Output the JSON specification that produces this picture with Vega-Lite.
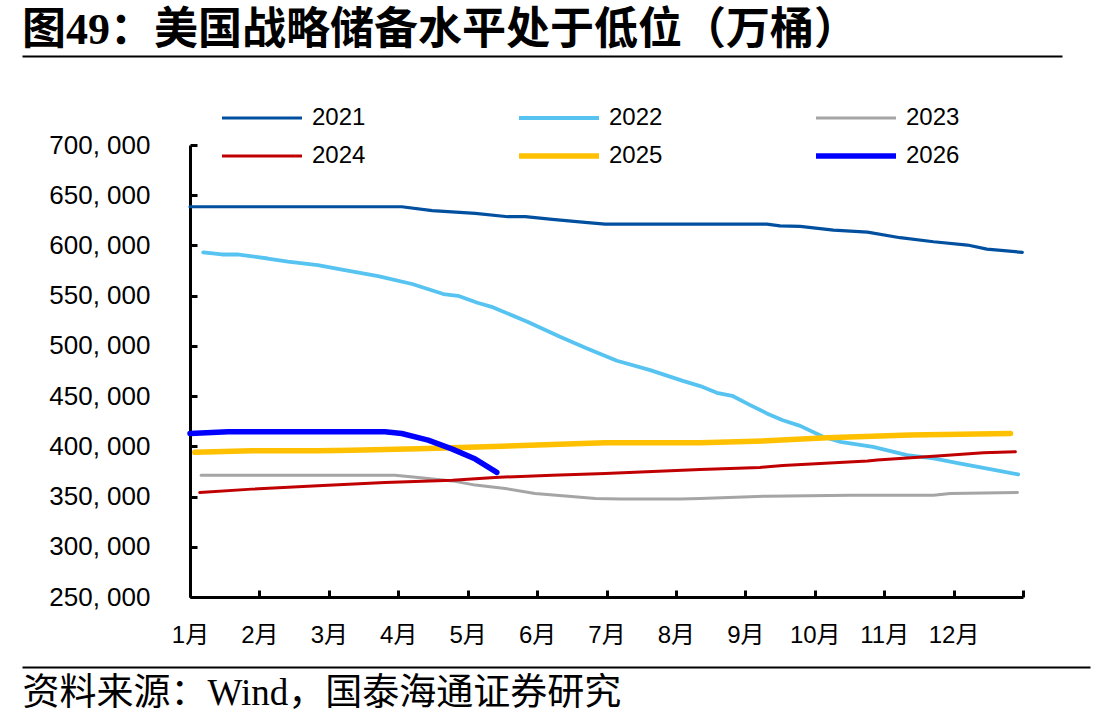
{
  "$schema": "https://vega.github.io/schema/vega-lite/v6.json",
  "padding": {"left": 22, "top": 9, "right": 0, "bottom": 0},
  "background": "white",
  "spacing": 17,
  "config": {
    "view": {"stroke": null},
    "axis": {"grid": false}
  },
  "data": {
    "values": [
      {"year": "2021", "month": 0, "stock": 638500},
      {"year": "2021", "month": 0.5, "stock": 638500},
      {"year": "2021", "month": 1, "stock": 638500},
      {"year": "2021", "month": 1.5, "stock": 638500},
      {"year": "2021", "month": 2, "stock": 638500},
      {"year": "2021", "month": 2.5, "stock": 638500},
      {"year": "2021", "month": 3.05, "stock": 638500},
      {"year": "2021", "month": 3.49, "stock": 634600},
      {"year": "2021", "month": 4.11, "stock": 632000},
      {"year": "2021", "month": 4.58, "stock": 628600},
      {"year": "2021", "month": 4.83, "stock": 628600},
      {"year": "2021", "month": 5.22, "stock": 626000},
      {"year": "2021", "month": 5.69, "stock": 623000},
      {"year": "2021", "month": 5.98, "stock": 621300},
      {"year": "2021", "month": 6.5, "stock": 621300},
      {"year": "2021", "month": 7, "stock": 621300},
      {"year": "2021", "month": 7.5, "stock": 621300},
      {"year": "2021", "month": 8.31, "stock": 621300},
      {"year": "2021", "month": 8.5, "stock": 619500},
      {"year": "2021", "month": 8.79, "stock": 619000},
      {"year": "2021", "month": 9.27, "stock": 615300},
      {"year": "2021", "month": 9.76, "stock": 613300},
      {"year": "2021", "month": 10.23, "stock": 607700},
      {"year": "2021", "month": 10.71, "stock": 603700},
      {"year": "2021", "month": 11.2, "stock": 600400},
      {"year": "2021", "month": 11.48, "stock": 596400},
      {"year": "2021", "month": 11.99, "stock": 593100},

      {"year": "2022", "month": 0.19, "stock": 593100},
      {"year": "2022", "month": 0.46, "stock": 591000},
      {"year": "2022", "month": 0.68, "stock": 591000},
      {"year": "2022", "month": 1.12, "stock": 587000},
      {"year": "2022", "month": 1.41, "stock": 583800},
      {"year": "2022", "month": 1.84, "stock": 580500},
      {"year": "2022", "month": 2.23, "stock": 575500},
      {"year": "2022", "month": 2.71, "stock": 569500},
      {"year": "2022", "month": 3.2, "stock": 561600},
      {"year": "2022", "month": 3.65, "stock": 551600},
      {"year": "2022", "month": 3.86, "stock": 549900},
      {"year": "2022", "month": 4.14, "stock": 542900},
      {"year": "2022", "month": 4.37, "stock": 538300},
      {"year": "2022", "month": 4.86, "stock": 524000},
      {"year": "2022", "month": 5.33, "stock": 509000},
      {"year": "2022", "month": 5.72, "stock": 497500},
      {"year": "2022", "month": 6.15, "stock": 485200},
      {"year": "2022", "month": 6.63, "stock": 475900},
      {"year": "2022", "month": 7.1, "stock": 465200},
      {"year": "2022", "month": 7.35, "stock": 460000},
      {"year": "2022", "month": 7.59, "stock": 453300},
      {"year": "2022", "month": 7.81, "stock": 450300},
      {"year": "2022", "month": 8.07, "stock": 441000},
      {"year": "2022", "month": 8.31, "stock": 432800},
      {"year": "2022", "month": 8.54, "stock": 426000},
      {"year": "2022", "month": 8.79, "stock": 420400},
      {"year": "2022", "month": 9.12, "stock": 409500},
      {"year": "2022", "month": 9.37, "stock": 404500},
      {"year": "2022", "month": 9.84, "stock": 399500},
      {"year": "2022", "month": 10.33, "stock": 391200},
      {"year": "2022", "month": 10.71, "stock": 387900},
      {"year": "2022", "month": 11.1, "stock": 382900},
      {"year": "2022", "month": 11.43, "stock": 378600},
      {"year": "2022", "month": 11.93, "stock": 372000},

      {"year": "2023", "month": 0.16, "stock": 371300},
      {"year": "2023", "month": 1, "stock": 371300},
      {"year": "2023", "month": 2, "stock": 371300},
      {"year": "2023", "month": 2.95, "stock": 371300},
      {"year": "2023", "month": 3.29, "stock": 369000},
      {"year": "2023", "month": 3.78, "stock": 365600},
      {"year": "2023", "month": 4.11, "stock": 361400},
      {"year": "2023", "month": 4.54, "stock": 358000},
      {"year": "2023", "month": 4.97, "stock": 353000},
      {"year": "2023", "month": 5.45, "stock": 350400},
      {"year": "2023", "month": 5.84, "stock": 348100},
      {"year": "2023", "month": 6.2, "stock": 347500},
      {"year": "2023", "month": 7.06, "stock": 347500},
      {"year": "2023", "month": 7.35, "stock": 348000},
      {"year": "2023", "month": 8.31, "stock": 350400},
      {"year": "2023", "month": 9.51, "stock": 351400},
      {"year": "2023", "month": 10.71, "stock": 351400},
      {"year": "2023", "month": 10.95, "stock": 353000},
      {"year": "2023", "month": 11.92, "stock": 354000},

      {"year": "2024", "month": 0.14, "stock": 354000},
      {"year": "2024", "month": 0.89, "stock": 357400},
      {"year": "2024", "month": 1.84, "stock": 360700},
      {"year": "2024", "month": 2.81, "stock": 364000},
      {"year": "2024", "month": 3.78, "stock": 366300},
      {"year": "2024", "month": 4.39, "stock": 369000},
      {"year": "2024", "month": 5.22, "stock": 371300},
      {"year": "2024", "month": 5.98, "stock": 373000},
      {"year": "2024", "month": 7.35, "stock": 377000},
      {"year": "2024", "month": 8.21, "stock": 379000},
      {"year": "2024", "month": 8.54, "stock": 381000},
      {"year": "2024", "month": 9.76, "stock": 385300},
      {"year": "2024", "month": 9.9, "stock": 386500},
      {"year": "2024", "month": 10.71, "stock": 390200},
      {"year": "2024", "month": 11.43, "stock": 393500},
      {"year": "2024", "month": 11.89, "stock": 394500},

      {"year": "2025", "month": 0.07, "stock": 394000},
      {"year": "2025", "month": 0.89, "stock": 395500},
      {"year": "2025", "month": 1.84, "stock": 395500},
      {"year": "2025", "month": 2.33, "stock": 396200},
      {"year": "2025", "month": 3.29, "stock": 397500},
      {"year": "2025", "month": 4.25, "stock": 399500},
      {"year": "2025", "month": 5.22, "stock": 401800},
      {"year": "2025", "month": 5.98, "stock": 403500},
      {"year": "2025", "month": 7.35, "stock": 403500},
      {"year": "2025", "month": 8.31, "stock": 405500},
      {"year": "2025", "month": 9.18, "stock": 408500},
      {"year": "2025", "month": 10.37, "stock": 411200},
      {"year": "2025", "month": 11.82, "stock": 412800},

      {"year": "2026", "month": 0, "stock": 412800},
      {"year": "2026", "month": 0.55, "stock": 414500},
      {"year": "2026", "month": 2.81, "stock": 414500},
      {"year": "2026", "month": 3.05, "stock": 412800},
      {"year": "2026", "month": 3.43, "stock": 406200},
      {"year": "2026", "month": 3.78, "stock": 397200},
      {"year": "2026", "month": 4.11, "stock": 387300},
      {"year": "2026", "month": 4.42, "stock": 374000}
    ]
  },
  "vconcat": [
    {
      "width": 872,
      "height": 59,
      "title": {
        "text": "图49：美国战略储备水平处于低位（万桶）",
        "anchor": "start",
        "frame": "group",
        "fontSize": 44,
        "font": "Liberation Serif, Noto Sans CJK SC",
        "fontWeight": "bold",
        "color": "black",
        "baseline": "alphabetic",
        "dx": -168,
        "offset": -32
      },
      "mark": {"type": "rule", "opacity": 0},
      "encoding": {
        "x": {
          "field": "month",
          "type": "quantitative",
          "scale": {"domain": [0, 12], "range": [-168, 872]},
          "axis": {
            "orient": "top",
            "ticks": false,
            "labels": false,
            "title": null,
            "minExtent": 0,
            "maxExtent": 0,
            "offset": 0,
            "domainColor": "black",
            "domainWidth": 2
          }
        }
      }
    },
    {
      "width": 833,
      "height": 452,
      "mark": {"type": "line", "strokeCap": "round", "strokeJoin": "round"},
      "encoding": {
        "x": {
          "field": "month",
          "type": "quantitative",
          "scale": {"domain": [0, 12], "nice": false, "zero": false},
          "axis": {
            "title": null,
            "values": [0, 1, 2, 3, 4, 5, 6, 7, 8, 9, 10, 11, 12],
            "labelExpr": "datum.value < 12 ? (datum.value + 1) + '月' : ''",
            "labelFlush": false,
            "labelOverlap": false,
            "labelFont": "Liberation Sans, Noto Sans CJK SC",
            "labelFontSize": 24,
            "labelColor": "black",
            "labelPadding": 33,
            "domainColor": "black",
            "domainWidth": 3,
            "tickColor": "black",
            "tickWidth": 3,
            "tickSize": -7
          }
        },
        "y": {
          "field": "stock",
          "type": "quantitative",
          "scale": {"domain": [250000, 700000], "nice": false, "zero": false},
          "axis": {
            "title": null,
            "values": [250000, 300000, 350000, 400000, 450000, 500000, 550000, 600000, 650000, 700000],
            "labelExpr": "replace(format(datum.value, ','), ',', ', ')",
            "labelOverlap": false,
            "labelFont": "Liberation Sans",
            "labelFontSize": 26,
            "labelColor": "black",
            "labelPadding": 47,
            "minExtent": 168,
            "domainColor": "black",
            "domainWidth": 3,
            "tickColor": "black",
            "tickWidth": 3,
            "tickSize": -7
          }
        },
        "color": {
          "field": "year",
          "type": "nominal",
          "scale": {
            "domain": ["2021", "2022", "2023", "2024", "2025", "2026"],
            "range": ["#00509F", "#56C3F0", "#A5A5A5", "#C00000", "#FFC000", "#0000FF"]
          },
          "legend": {
            "title": null,
            "orient": "none",
            "legendX": 29,
            "legendY": 50,
            "direction": "horizontal",
            "columns": 3,
            "columnPadding": 150,
            "rowPadding": 14,
            "clipHeight": 24,
            "padding": 0,
            "symbolType": "stroke",
            "symbolSize": 6400,
            "labelFont": "Liberation Sans",
            "labelFontSize": 24,
            "labelColor": "black",
            "labelOffset": 7
          }
        },
        "strokeWidth": {
          "field": "year",
          "type": "nominal",
          "scale": {
            "type": "ordinal",
            "domain": ["2021", "2022", "2023", "2024", "2025", "2026"],
            "range": [3.2, 3.8, 3, 3, 5.5, 5.5]
          },
          "legend": {
            "title": null,
            "orient": "none",
            "legendX": 29,
            "legendY": 50,
            "direction": "horizontal",
            "columns": 3,
            "columnPadding": 150,
            "rowPadding": 14,
            "clipHeight": 24,
            "padding": 0,
            "symbolType": "stroke",
            "symbolSize": 6400,
            "labelFont": "Liberation Sans",
            "labelFontSize": 24,
            "labelColor": "black",
            "labelOffset": 7
          }
        }
      }
    },
    {
      "width": 900,
      "height": 3,
      "mark": {"type": "rule", "opacity": 0},
      "encoding": {
        "x": {
          "field": "month",
          "type": "quantitative",
          "scale": {"domain": [0, 12], "range": [-168, 900]},
          "axis": {
            "orient": "bottom",
            "ticks": false,
            "labels": false,
            "domainColor": "black",
            "domainWidth": 2,
            "title": "资料来源：Wind，国泰海通证券研究",
            "titleAnchor": "start",
            "titleAlign": "left",
            "titleBaseline": "top",
            "titleFont": "Liberation Serif, Noto Sans CJK SC",
            "titleFontSize": 37,
            "titleFontWeight": "normal",
            "titleColor": "black",
            "titlePadding": 8
          }
        }
      }
    }
  ]
}
